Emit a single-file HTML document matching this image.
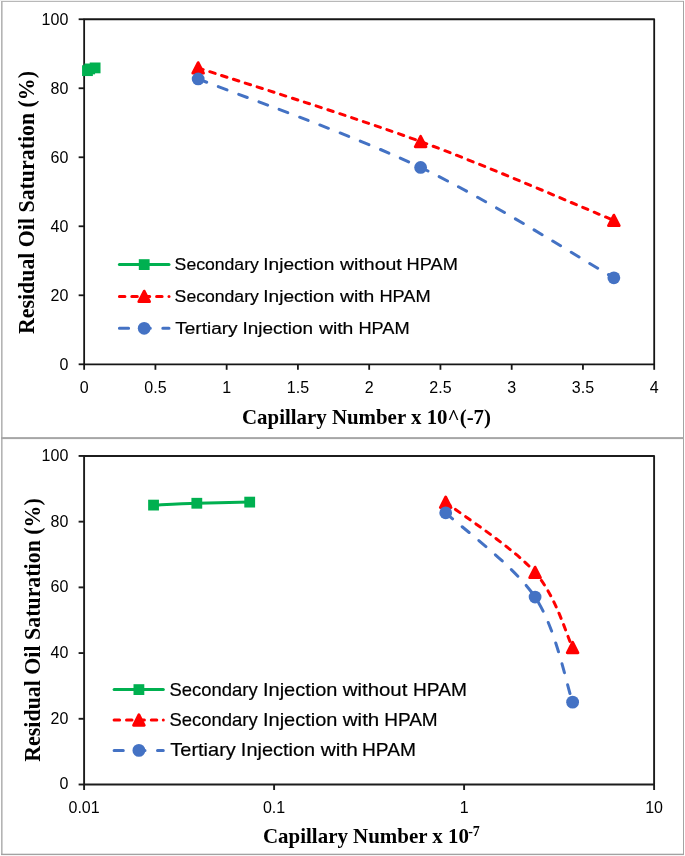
<!DOCTYPE html><html><head><meta charset="utf-8"><style>html,body{margin:0;padding:0;background:#fff;}svg{display:block;will-change:transform;}.tk{font-family:"Liberation Sans",sans-serif;font-size:16px;fill:#000;}.lg{font-family:"Liberation Sans",sans-serif;font-size:18px;fill:#000;stroke:#000;stroke-width:0.2px;}.ti{font-family:"Liberation Serif",serif;font-weight:bold;font-size:21.5px;fill:#000;}</style></head><body>
<svg width="685" height="856" viewBox="0 0 685 856">
<rect x="0" y="0" width="685" height="856" fill="#fff"/>
<rect x="0" y="0" width="684" height="1" fill="#f0f0f0"/>
<rect x="1" y="1" width="683" height="1" fill="#b8b8b8"/>
<rect x="1" y="1" width="1.6" height="854" fill="#b4b4b4"/>
<rect x="683" y="1" width="1" height="854" fill="#a4a4a4"/>
<rect x="1" y="853.7" width="683" height="1.4" fill="#a2a2a2"/>
<rect x="1" y="437.1" width="683" height="2" fill="#a6a6a6"/>
<rect x="84.15" y="19.25" width="570.05" height="345.05" fill="none" stroke="#161616" stroke-width="1.8" stroke-linejoin="round"/>
<line x1="78.65" y1="364.30" x2="84.15" y2="364.30" stroke="#161616" stroke-width="1.8"/>
<text class="tk" x="68.3" y="370.00" text-anchor="end">0</text>
<line x1="78.65" y1="295.29" x2="84.15" y2="295.29" stroke="#161616" stroke-width="1.8"/>
<text class="tk" x="68.3" y="300.99" text-anchor="end">20</text>
<line x1="78.65" y1="226.28" x2="84.15" y2="226.28" stroke="#161616" stroke-width="1.8"/>
<text class="tk" x="68.3" y="231.98" text-anchor="end">40</text>
<line x1="78.65" y1="157.27" x2="84.15" y2="157.27" stroke="#161616" stroke-width="1.8"/>
<text class="tk" x="68.3" y="162.97" text-anchor="end">60</text>
<line x1="78.65" y1="88.26" x2="84.15" y2="88.26" stroke="#161616" stroke-width="1.8"/>
<text class="tk" x="68.3" y="93.96" text-anchor="end">80</text>
<line x1="78.65" y1="19.25" x2="84.15" y2="19.25" stroke="#161616" stroke-width="1.8"/>
<text class="tk" x="68.3" y="24.95" text-anchor="end">100</text>
<line x1="84.15" y1="364.3" x2="84.15" y2="369.8" stroke="#161616" stroke-width="1.8"/>
<text class="tk" x="84.15" y="392.7" text-anchor="middle">0</text>
<line x1="155.41" y1="364.3" x2="155.41" y2="369.8" stroke="#161616" stroke-width="1.8"/>
<text class="tk" x="155.41" y="392.7" text-anchor="middle">0.5</text>
<line x1="226.66" y1="364.3" x2="226.66" y2="369.8" stroke="#161616" stroke-width="1.8"/>
<text class="tk" x="226.66" y="392.7" text-anchor="middle">1</text>
<line x1="297.92" y1="364.3" x2="297.92" y2="369.8" stroke="#161616" stroke-width="1.8"/>
<text class="tk" x="297.92" y="392.7" text-anchor="middle">1.5</text>
<line x1="369.18" y1="364.3" x2="369.18" y2="369.8" stroke="#161616" stroke-width="1.8"/>
<text class="tk" x="369.18" y="392.7" text-anchor="middle">2</text>
<line x1="440.43" y1="364.3" x2="440.43" y2="369.8" stroke="#161616" stroke-width="1.8"/>
<text class="tk" x="440.43" y="392.7" text-anchor="middle">2.5</text>
<line x1="511.69" y1="364.3" x2="511.69" y2="369.8" stroke="#161616" stroke-width="1.8"/>
<text class="tk" x="511.69" y="392.7" text-anchor="middle">3</text>
<line x1="582.94" y1="364.3" x2="582.94" y2="369.8" stroke="#161616" stroke-width="1.8"/>
<text class="tk" x="582.94" y="392.7" text-anchor="middle">3.5</text>
<line x1="654.20" y1="364.3" x2="654.20" y2="369.8" stroke="#161616" stroke-width="1.8"/>
<text class="tk" x="654.20" y="392.7" text-anchor="middle">4</text>
<rect x="84.1" y="455.95" width="570.00" height="328.55" fill="none" stroke="#1c1c1c" stroke-width="1.9" stroke-linejoin="round"/>
<line x1="78.6" y1="784.50" x2="84.1" y2="784.50" stroke="#1c1c1c" stroke-width="1.9"/>
<text class="tk" x="68.3" y="789.40" text-anchor="end">0</text>
<line x1="78.6" y1="718.79" x2="84.1" y2="718.79" stroke="#1c1c1c" stroke-width="1.9"/>
<text class="tk" x="68.3" y="723.69" text-anchor="end">20</text>
<line x1="78.6" y1="653.08" x2="84.1" y2="653.08" stroke="#1c1c1c" stroke-width="1.9"/>
<text class="tk" x="68.3" y="657.98" text-anchor="end">40</text>
<line x1="78.6" y1="587.37" x2="84.1" y2="587.37" stroke="#1c1c1c" stroke-width="1.9"/>
<text class="tk" x="68.3" y="592.27" text-anchor="end">60</text>
<line x1="78.6" y1="521.66" x2="84.1" y2="521.66" stroke="#1c1c1c" stroke-width="1.9"/>
<text class="tk" x="68.3" y="526.56" text-anchor="end">80</text>
<line x1="78.6" y1="455.95" x2="84.1" y2="455.95" stroke="#1c1c1c" stroke-width="1.9"/>
<text class="tk" x="68.3" y="460.85" text-anchor="end">100</text>
<line x1="84.10" y1="784.5" x2="84.10" y2="790.0" stroke="#1c1c1c" stroke-width="1.9"/>
<text class="tk" x="84.10" y="812.8" text-anchor="middle">0.01</text>
<line x1="274.10" y1="784.5" x2="274.10" y2="790.0" stroke="#1c1c1c" stroke-width="1.9"/>
<text class="tk" x="274.10" y="812.8" text-anchor="middle">0.1</text>
<line x1="464.10" y1="784.5" x2="464.10" y2="790.0" stroke="#1c1c1c" stroke-width="1.9"/>
<text class="tk" x="464.10" y="812.8" text-anchor="middle">1</text>
<line x1="654.10" y1="784.5" x2="654.10" y2="790.0" stroke="#1c1c1c" stroke-width="1.9"/>
<text class="tk" x="654.10" y="812.8" text-anchor="middle">10</text>
<path d="M87.46,70.66 C87.83,70.37 88.40,69.40 89.68,68.94 C90.96,68.48 94.22,68.07 95.12,67.90" fill="none" stroke="#00B050" stroke-width="3" stroke-linecap="round"/>
<rect x="82.06" y="65.26" width="10.8" height="10.8" fill="#00B050"/>
<rect x="84.28" y="63.54" width="10.8" height="10.8" fill="#00B050"/>
<rect x="89.72" y="62.50" width="10.8" height="10.8" fill="#00B050"/>
<path d="M198.16,67.90 C235.24,80.18 351.34,116.15 420.62,141.57 C489.91,166.99 581.66,207.27 613.87,220.41" fill="none" stroke="#FF0000" stroke-width="3" stroke-linecap="round" stroke-dasharray="5.5 6.9"/>
<polygon points="198.16,62.60 203.56,73.20 192.76,73.20" fill="#FF0000" stroke="#FF0000" stroke-width="2.8" stroke-linejoin="round"/>
<polygon points="420.62,136.27 426.02,146.87 415.22,146.87" fill="#FF0000" stroke="#FF0000" stroke-width="2.8" stroke-linejoin="round"/>
<polygon points="613.87,215.11 619.27,225.71 608.47,225.71" fill="#FF0000" stroke="#FF0000" stroke-width="2.8" stroke-linejoin="round"/>
<path d="M198.16,78.94 C235.24,93.69 351.34,134.31 420.62,167.45 C489.91,200.59 581.66,259.40 613.87,277.80" fill="none" stroke="#4472C4" stroke-width="3" stroke-linecap="round" stroke-dasharray="9.2 12.5"/>
<circle cx="198.16" cy="78.94" r="6.4" fill="#4472C4"/>
<circle cx="420.62" cy="167.45" r="6.4" fill="#4472C4"/>
<circle cx="613.87" cy="277.80" r="6.4" fill="#4472C4"/>
<path d="M153.54,505.10 C160.76,504.79 180.80,503.76 196.82,503.26 C212.85,502.76 240.89,502.30 249.70,502.11" fill="none" stroke="#00B050" stroke-width="3" stroke-linecap="round"/>
<rect x="148.14" y="499.70" width="10.8" height="10.8" fill="#00B050"/>
<rect x="191.42" y="497.86" width="10.8" height="10.8" fill="#00B050"/>
<rect x="244.30" y="496.71" width="10.8" height="10.8" fill="#00B050"/>
<path d="M445.69,502.28 C460.59,513.97 513.94,548.22 535.09,572.42 C556.25,596.62 566.36,634.98 572.61,647.49" fill="none" stroke="#FF0000" stroke-width="3" stroke-linecap="round" stroke-dasharray="5.5 6.9"/>
<polygon points="445.69,496.98 451.09,507.58 440.29,507.58" fill="#FF0000" stroke="#FF0000" stroke-width="2.8" stroke-linejoin="round"/>
<polygon points="535.09,567.12 540.49,577.72 529.69,577.72" fill="#FF0000" stroke="#FF0000" stroke-width="2.8" stroke-linejoin="round"/>
<polygon points="572.61,642.19 578.01,652.79 567.21,652.79" fill="#FF0000" stroke="#FF0000" stroke-width="2.8" stroke-linejoin="round"/>
<path d="M445.69,512.79 C460.59,526.83 513.94,565.50 535.09,597.06 C556.25,628.62 566.36,684.62 572.61,702.13" fill="none" stroke="#4472C4" stroke-width="3" stroke-linecap="round" stroke-dasharray="9.2 12.5"/>
<circle cx="445.69" cy="512.79" r="6.4" fill="#4472C4"/>
<circle cx="535.09" cy="597.06" r="6.4" fill="#4472C4"/>
<circle cx="572.61" cy="702.13" r="6.4" fill="#4472C4"/>
<line x1="119.4" y1="264.6" x2="169.0" y2="264.6" stroke="#00B050" stroke-width="3" stroke-linecap="round"/>
<rect x="138.80" y="259.20" width="10.8" height="10.8" fill="#00B050"/>
<line x1="119.4" y1="296.4" x2="169.0" y2="296.4" stroke="#FF0000" stroke-width="3" stroke-linecap="round" stroke-dasharray="5.5 6.9"/>
<circle cx="169.00" cy="296.4" r="1.5" fill="#FF0000"/>
<polygon points="144.20,291.10 149.60,301.70 138.80,301.70" fill="#FF0000" stroke="#FF0000" stroke-width="2.8" stroke-linejoin="round"/>
<line x1="119.4" y1="328.3" x2="169.0" y2="328.3" stroke="#4472C4" stroke-width="3" stroke-linecap="round" stroke-dasharray="9.2 12.5"/>
<circle cx="144.20" cy="328.30" r="6.4" fill="#4472C4"/>
<text class="lg" style="font-size:17.3px" x="174.63" y="270.4" textLength="84.23" lengthAdjust="spacingAndGlyphs">Secondary</text>
<text class="lg" style="font-size:17.3px" x="263.26" y="270.4" textLength="71.03" lengthAdjust="spacingAndGlyphs">Injection</text>
<text class="lg" style="font-size:17.3px" x="339.99" y="270.4" textLength="61.81" lengthAdjust="spacingAndGlyphs">without</text>
<text class="lg" style="font-size:17.3px" x="406.63" y="270.4" textLength="51.18" lengthAdjust="spacingAndGlyphs">HPAM</text>
<text class="lg" style="font-size:17.3px" x="174.63" y="301.9" textLength="84.23" lengthAdjust="spacingAndGlyphs">Secondary</text>
<text class="lg" style="font-size:17.3px" x="263.26" y="301.9" textLength="71.03" lengthAdjust="spacingAndGlyphs">Injection</text>
<text class="lg" style="font-size:17.3px" x="339.96" y="301.9" textLength="34.43" lengthAdjust="spacingAndGlyphs">with</text>
<text class="lg" style="font-size:17.3px" x="379.41" y="301.9" textLength="51.18" lengthAdjust="spacingAndGlyphs">HPAM</text>
<text class="lg" style="font-size:17.3px" x="175.20" y="333.8" textLength="62.42" lengthAdjust="spacingAndGlyphs">Tertiary</text>
<text class="lg" style="font-size:17.3px" x="242.54" y="333.8" textLength="70.53" lengthAdjust="spacingAndGlyphs">Injection</text>
<text class="lg" style="font-size:17.3px" x="318.96" y="333.8" textLength="34.43" lengthAdjust="spacingAndGlyphs">with</text>
<text class="lg" style="font-size:17.3px" x="358.41" y="333.8" textLength="51.18" lengthAdjust="spacingAndGlyphs">HPAM</text>
<line x1="114.1" y1="689.6" x2="163.3" y2="689.6" stroke="#00B050" stroke-width="3" stroke-linecap="round"/>
<rect x="133.50" y="684.20" width="10.8" height="10.8" fill="#00B050"/>
<line x1="114.1" y1="720.0" x2="163.3" y2="720.0" stroke="#FF0000" stroke-width="3" stroke-linecap="round" stroke-dasharray="5.5 6.9"/>
<circle cx="163.30" cy="720.0" r="1.5" fill="#FF0000"/>
<polygon points="138.90,714.70 144.30,725.30 133.50,725.30" fill="#FF0000" stroke="#FF0000" stroke-width="2.8" stroke-linejoin="round"/>
<line x1="114.1" y1="750.4" x2="163.3" y2="750.4" stroke="#4472C4" stroke-width="3" stroke-linecap="round" stroke-dasharray="9.2 12.5"/>
<circle cx="138.90" cy="750.40" r="6.4" fill="#4472C4"/>
<text class="lg" style="font-size:18.4px" x="169.58" y="695.8" textLength="88.06" lengthAdjust="spacingAndGlyphs">Secondary</text>
<text class="lg" style="font-size:18.4px" x="263.00" y="695.8" textLength="74.40" lengthAdjust="spacingAndGlyphs">Injection</text>
<text class="lg" style="font-size:18.4px" x="342.73" y="695.8" textLength="64.68" lengthAdjust="spacingAndGlyphs">without</text>
<text class="lg" style="font-size:18.4px" x="413.06" y="695.8" textLength="53.76" lengthAdjust="spacingAndGlyphs">HPAM</text>
<text class="lg" style="font-size:18.4px" x="169.58" y="725.9" textLength="88.06" lengthAdjust="spacingAndGlyphs">Secondary</text>
<text class="lg" style="font-size:18.4px" x="263.00" y="725.9" textLength="74.40" lengthAdjust="spacingAndGlyphs">Injection</text>
<text class="lg" style="font-size:18.4px" x="342.74" y="725.9" textLength="36.54" lengthAdjust="spacingAndGlyphs">with</text>
<text class="lg" style="font-size:18.4px" x="384.22" y="725.9" textLength="53.48" lengthAdjust="spacingAndGlyphs">HPAM</text>
<text class="lg" style="font-size:18.4px" x="170.28" y="755.7" textLength="65.54" lengthAdjust="spacingAndGlyphs">Tertiary</text>
<text class="lg" style="font-size:18.4px" x="240.88" y="755.7" textLength="74.27" lengthAdjust="spacingAndGlyphs">Injection</text>
<text class="lg" style="font-size:18.4px" x="320.78" y="755.7" textLength="37.05" lengthAdjust="spacingAndGlyphs">with</text>
<text class="lg" style="font-size:18.4px" x="362.06" y="755.7" textLength="53.80" lengthAdjust="spacingAndGlyphs">HPAM</text>
<text class="ti" style="font-size:22px" x="242" y="423.6" textLength="249" lengthAdjust="spacingAndGlyphs">Capillary Number x 10^(-7)</text>
<text class="ti" style="font-size:22.6px" transform="translate(33.6,334) rotate(-90)" x="0" y="0" textLength="263" lengthAdjust="spacingAndGlyphs">Residual Oil Saturation (%)</text>
<text class="ti" style="font-size:22.6px" transform="translate(40.2,761.7) rotate(-90)" x="0" y="0" textLength="263.5" lengthAdjust="spacingAndGlyphs">Residual Oil Saturation (%)</text>
<text class="ti" style="font-size:22px" x="263" y="842.7" textLength="206" lengthAdjust="spacingAndGlyphs">Capillary Number x 10</text>
<text class="ti" style="font-size:14px" x="468.2" y="835.7">-7</text>
</svg></body></html>
